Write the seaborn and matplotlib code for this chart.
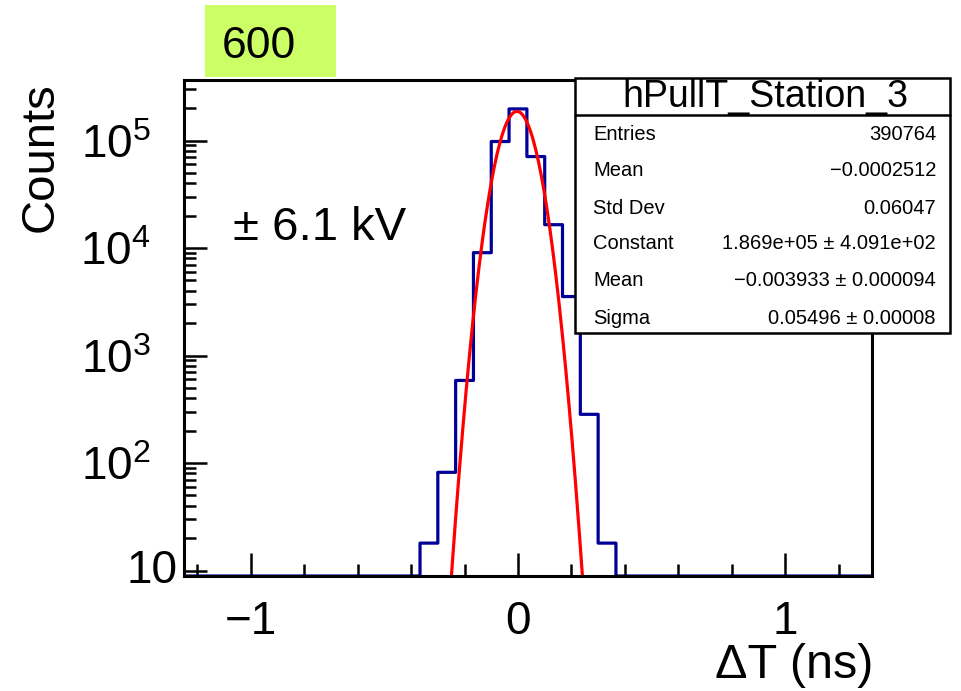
import numpy as np
import pandas as pd
import matplotlib
matplotlib.use("Agg")
import matplotlib.pyplot as plt
import seaborn as sns
from matplotlib.patches import Rectangle
from matplotlib.lines import Line2D
from matplotlib.ticker import FixedLocator, FixedFormatter

# ---- data -------------------------------------------------------------
# Delta-T histogram: bin centres (ns), bin width 1/15 ns, counts per bin
bin_centers = [-0.3333, -0.2667, -0.2000, -0.1333, -0.0667, 0.0,
               0.0667, 0.1333, 0.2000, 0.2667, 0.3333]
bin_counts = [18, 82, 587, 9060, 98000, 197000, 71000, 16500, 3540, 284, 18]
bin_width = 1.0 / 15.0

# Gaussian fit result
fit_constant = 1.869e5
fit_mean = -0.003933
fit_sigma = 0.05496

# statistics box
stat_title = "hPullT_Station_3"
stat_labels = ["Entries", "Mean", "Std Dev", "Constant", "Mean", "Sigma"]
stat_values = ["390764", "\u22120.0002512", "0.06047",
               "1.869e+05 \u00b1 4.091e+02", "\u22120.003933 \u00b1 0.000094",
               "0.05496 \u00b1 0.00008"]

# axes
x_limits = (-1.25, 1.325)
y_limits = (8.9, 3.66e5)
x_major = [-1, 0, 1]
x_major_labels = ["\u22121", "0", "1"]
x_minor = [-1.2, -0.8, -0.6, -0.4, -0.2, 0.2, 0.4, 0.6, 0.8, 1.2]
y_major = [1e2, 1e3, 1e4, 1e5]
y_major_labels = [r"$\mathregular{10^{2}}$", r"$\mathregular{10^{3}}$",
                  r"$\mathregular{10^{4}}$", r"$\mathregular{10^{5}}$"]
y_minor = [m * 10.0 ** k for k in range(1, 6) for m in range(2, 10)]

voltage_text = "\u00b1 6.1 kV"
run_text = "600"

# ---- style ------------------------------------------------------------
sns.set_style("white")
plt.rcParams.update({
    "font.family": ["Liberation Sans", "DejaVu Sans"],
    "axes.unicode_minus": True,
    "text.color": "black",
    "axes.labelcolor": "black",
    "xtick.color": "black",
    "ytick.color": "black",
    "axes.edgecolor": "black",
})

W, H = 962, 691
fig = plt.figure(figsize=(W / 100, H / 100), dpi=100)


def fx(px):
    return px / W


def fy(py):
    return 1 - py / H


ax = fig.add_axes([fx(184), fy(576), fx(872) - fx(184), fy(80) - fy(576)])
ax.set_yscale("log")
ax.set_xlim(*x_limits)
ax.set_ylim(*y_limits)

# histogram outline, empty bins resting on the axis floor
floor = y_limits[0]
hx = [x_limits[0]]
hy = [floor]
for c, n in zip(bin_centers, bin_counts):
    left, right = c - bin_width / 2, c + bin_width / 2
    if len(hx) == 1:
        hx.append(left)
        hy.append(floor)
    hx += [left, right]
    hy += [n, n]
hx += [bin_centers[-1] + bin_width / 2, x_limits[1]]
hy += [floor, floor]
hist_df = pd.DataFrame({"x": hx, "y": hy})
sns.lineplot(data=hist_df, x="x", y="y", sort=False, estimator=None,
             color="#000099", linewidth=2.3, ax=ax)

# fitted Gaussian
gx = np.linspace(-0.45, 0.45, 300)
gy = fit_constant * np.exp(-0.5 * ((gx - fit_mean) / fit_sigma) ** 2)
fit_df = pd.DataFrame({"x": gx, "y": gy})
sns.lineplot(data=fit_df, x="x", y="y", sort=False, estimator=None,
             color="#ff0000", linewidth=2.3, ax=ax)

ax.set_xlabel("")
ax.set_ylabel("")

# ticks
ax.xaxis.set_major_locator(FixedLocator(x_major))
ax.xaxis.set_major_formatter(FixedFormatter(x_major_labels))
ax.xaxis.set_minor_locator(FixedLocator(x_minor))
ax.yaxis.set_major_locator(FixedLocator(y_major))
ax.yaxis.set_major_formatter(FixedFormatter(y_major_labels))
ax.yaxis.set_minor_locator(FixedLocator([10.0] + y_minor))
ax.yaxis.set_minor_formatter(FixedFormatter([""] * (1 + len(y_minor))))
ax.tick_params(axis="both", which="major", direction="in", length=16.5,
               width=1.8, color="black", labelcolor="black", labelsize=33,
               bottom=True, left=True, top=False, right=False)
ax.tick_params(axis="both", which="minor", direction="in", length=8.5,
               width=1.8, color="black", bottom=True, left=True,
               top=False, right=False)
ax.tick_params(axis="x", which="major", pad=17)
ax.tick_params(axis="y", which="major", pad=24)
# the 10 tick is drawn at major length
ax.yaxis.get_minor_ticks()[0].tick1line.set_markersize(16.5)
ax.text(-0.01, 10, "10", transform=ax.get_yaxis_transform(), ha="right",
        va="center", fontsize=33, color="black")

for sp in ax.spines.values():
    sp.set_linewidth(2.2)
    sp.set_color("black")
    sp.set_visible(True)

# axis titles
fig.text(fx(41), fy(82), "Counts", rotation=90, ha="center", va="top",
         fontsize=34)
fig.text(fx(873), fy(643), "\u0394T (ns)", ha="right", va="top", fontsize=35)

# statistics box
bx0, bx1, by0, by1, bsep = 575, 950, 78, 333, 115
fig.patches.append(Rectangle((fx(bx0), fy(by1)), fx(bx1) - fx(bx0),
                             fy(by0) - fy(by1), transform=fig.transFigure,
                             facecolor="white", edgecolor="black",
                             linewidth=1.8, zorder=5))
fig.lines.append(Line2D([fx(bx0), fx(bx1)], [fy(bsep), fy(bsep)],
                        transform=fig.transFigure, color="black",
                        linewidth=1.8, zorder=6))
fig.text(fx(765), fy(97), stat_title, ha="center", va="center", fontsize=27,
         zorder=7)
row_y = [134, 171, 208, 244, 281, 318]
for yy, lab, val in zip(row_y, stat_labels, stat_values):
    fig.text(fx(593), fy(yy), lab, ha="left", va="center", fontsize=14.5,
             zorder=7)
    fig.text(fx(936), fy(yy), val, ha="right", va="center", fontsize=14.5,
             zorder=7)

# annotations
fig.text(fx(233), fy(240), voltage_text, ha="left", va="baseline",
         fontsize=34)
fig.patches.append(Rectangle((fx(205), fy(77)), fx(336) - fx(205),
                             fy(5) - fy(77), transform=fig.transFigure,
                             facecolor="#ccff66", edgecolor="none", zorder=1))
fig.text(fx(222), fy(58), run_text, ha="left", va="baseline", fontsize=32,
         zorder=2)

fig.savefig("out.png", dpi=100)
